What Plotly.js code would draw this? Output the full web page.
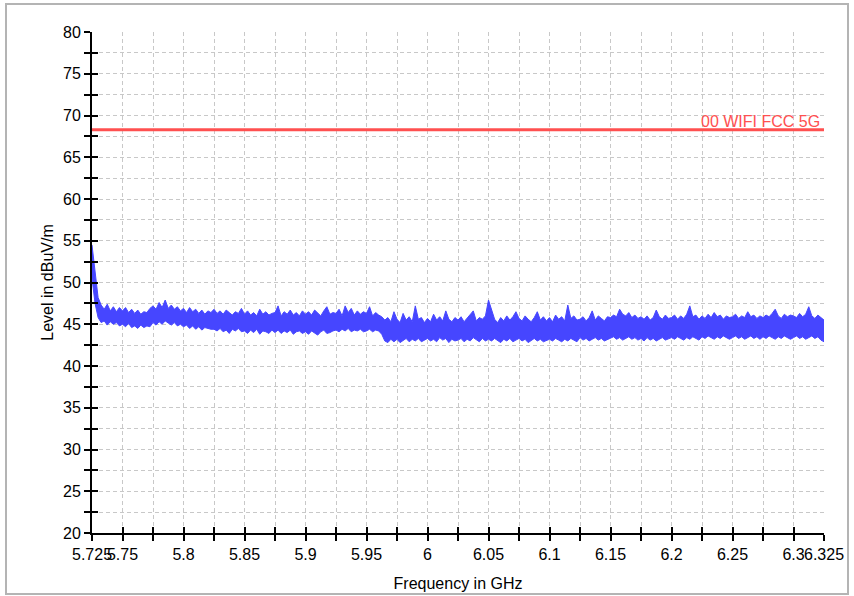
<!DOCTYPE html>
<html><head><meta charset="utf-8">
<script src="https://cdn.plot.ly/plotly-3.0.1.min.js"></script>
<style>
html,body{margin:0;padding:0;background:#fff;}
#frame{position:absolute;left:5px;top:3px;width:844px;height:592px;border:2px solid #b4b4b4;box-sizing:border-box;}
#chart{position:absolute;left:0;top:0;width:854px;height:596px;}
</style></head>
<body><div id="frame"></div><div id="chart"></div>
<script>
// Sweep grid (GHz)
const freqStart = 5.725;
const freqStep = 0.0025;

// Upper envelope of the measured trace (dBuV/m), one value per sweep point
const levelTop = [
54.5,51.5,48.2,47.3,46.8,47.4,46.6,47.1,46.5,47.0,
46.6,47.0,46.4,46.8,46.3,46.7,46.2,46.5,46.4,46.9,
47.2,46.8,47.6,47.0,47.9,46.9,47.3,46.8,47.1,46.6,
46.9,46.4,47.0,46.5,46.8,46.3,46.7,46.2,46.6,46.4,
46.8,46.3,46.6,46.2,46.7,46.4,46.1,46.5,46.3,46.9,
46.2,46.6,46.1,46.4,46.0,46.8,46.2,46.5,46.1,46.3,
46.4,47.2,46.0,46.5,46.2,46.7,46.1,46.4,46.0,46.6,
46.2,46.5,46.1,46.7,46.3,46.0,46.6,47.1,46.2,46.4,
46.3,46.8,46.0,47.2,46.4,46.9,46.1,46.6,46.2,46.5,
46.3,47.1,46.0,46.4,46.1,45.9,45.5,45.8,45.3,46.5,
45.6,45.2,46.3,45.5,45.9,45.3,47.2,45.6,45.8,45.2,
45.7,45.3,46.2,45.5,45.9,45.4,46.6,45.6,45.3,45.8,
45.5,45.9,45.3,45.7,46.1,46.6,45.4,45.8,45.6,46.0,
47.9,46.8,45.6,45.2,45.8,45.4,46.0,45.5,45.9,46.5,
45.7,45.4,46.0,45.6,45.3,45.8,46.5,45.5,45.9,45.4,
45.8,45.3,46.1,45.6,45.9,45.4,47.3,45.7,46.0,45.5,
45.6,45.9,45.4,45.8,46.6,45.5,46.0,45.7,45.4,45.9,
45.8,46.1,45.9,46.8,46.2,46.0,46.4,45.8,46.1,45.7,
45.9,45.6,46.0,45.5,45.8,46.7,45.9,45.6,46.1,45.7,
45.8,46.1,45.6,46.0,45.7,46.2,47.2,45.9,46.1,45.6,
46.0,45.7,46.2,45.8,46.4,45.9,46.1,45.6,46.0,45.8,
45.9,46.2,45.7,46.0,45.8,46.5,45.9,46.1,45.7,46.0,
45.8,46.1,45.9,46.3,46.8,46.0,45.7,46.2,45.9,46.1,
46.0,45.8,46.3,45.9,46.2,47.1,46.0,45.7,46.1,45.8,
45.5
];

// Lower envelope of the measured trace (dBuV/m)
const levelBottom = [
50.5,47.5,45.8,45.2,45.4,44.9,45.3,45.0,45.2,44.8,
45.0,44.7,45.1,44.6,44.8,44.5,44.9,44.6,44.8,44.7,
45.2,44.9,45.3,45.0,45.4,45.1,44.9,45.2,44.8,45.0,
44.7,44.9,44.5,44.8,44.4,44.7,44.3,44.6,44.5,44.4,
44.4,44.2,44.5,44.1,44.3,43.9,44.4,44.2,44.5,44.1,
44.2,43.9,44.3,44.0,44.4,43.8,44.2,44.1,43.9,44.3,
44.0,44.3,43.9,44.2,44.0,44.3,43.8,44.1,44.2,43.9,
44.1,43.8,44.2,44.0,43.7,44.1,44.3,43.9,44.0,44.2,
44.3,44.1,44.4,44.2,44.5,44.1,44.3,44.2,44.4,44.1,
44.2,44.4,44.1,44.3,44.2,43.8,43.0,42.8,43.2,42.9,
43.2,42.8,43.1,43.3,42.9,43.2,43.0,43.3,42.9,43.1,
43.3,43.0,43.2,42.9,43.4,43.1,43.3,42.8,43.2,43.0,
43.1,43.3,42.9,43.2,43.0,43.4,43.1,42.9,43.3,43.0,
43.2,43.0,43.3,43.1,42.8,43.2,43.0,43.3,42.9,43.1,
43.3,43.0,43.2,42.8,43.1,43.3,43.0,43.2,42.9,43.1,
43.2,43.0,43.3,43.1,42.9,43.2,43.0,43.3,43.1,42.9,
43.4,43.1,43.3,43.0,43.2,43.4,43.1,43.3,43.0,43.2,
43.3,43.5,43.2,43.4,43.1,43.3,43.5,43.2,43.4,43.1,
43.3,43.0,43.4,43.1,43.3,43.0,43.2,43.4,43.1,43.3,
43.4,43.2,43.5,43.3,43.1,43.4,43.2,43.5,43.3,43.1,
43.5,43.3,43.6,43.4,43.2,43.5,43.3,43.6,43.4,43.2,
43.4,43.6,43.3,43.5,43.2,43.4,43.6,43.3,43.5,43.2,
43.5,43.3,43.6,43.4,43.2,43.5,43.3,43.6,43.4,43.2,
43.4,43.6,43.3,43.5,43.2,43.4,43.6,43.3,43.5,43.1,
42.9
];

// Limit line
const limitName = "00 WIFI FCC 5G";
const limitFreq = [5.725, 6.325];
const limitLevel = [68.3, 68.3];

// Axis ticks
const freqTicks = [5.725,5.75,5.775,5.8,5.825,5.85,5.875,5.9,5.925,5.95,5.975,6.0,6.025,6.05,6.075,6.1,6.125,6.15,6.175,6.2,6.225,6.25,6.275,6.3,6.325];
const freqTickLabels = ["5.725","5.75","","5.8","","5.85","","5.9","","5.95","","6","","6.05","","6.1","","6.15","","6.2","","6.25","","6.3","6.325"];
const levelTicks = [20,22.5,25,27.5,30,32.5,35,37.5,40,42.5,45,47.5,50,52.5,55,57.5,60,62.5,65,67.5,70,72.5,75,77.5,80];
const levelTickLabels = ["20","","25","","30","","35","","40","","45","","50","","55","","60","","65","","70","","75","","80"];

const freq = levelTop.map((_, i) => freqStart + i * freqStep);
const blue = "rgb(70,70,255)";
const red = "rgb(255,80,80)";
const font = "Liberation Sans, Arial, sans-serif";

const traces = [
  {x: freq, y: levelBottom, mode: "lines", line: {color: blue, width: 1}, hoverinfo: "skip", showlegend: false},
  {x: freq, y: levelTop, mode: "lines", line: {color: blue, width: 1}, fill: "tonexty", fillcolor: blue, showlegend: false},
  {x: limitFreq, y: limitLevel, mode: "lines", line: {color: red, width: 3}, xaxis: "x2", yaxis: "y2", showlegend: false}
];

const axisCommon = {
  tickmode: "array", ticks: "outside", ticklen: 6, tickwidth: 2, tickcolor: "#000",
  showline: true, linewidth: 2, linecolor: "#000", zeroline: false,
  showgrid: true, gridcolor: "#c8c8c8", gridwidth: 1, griddash: "4px,3px",
  tickfont: {family: font, size: 16, color: "#000"}, tickangle: 0
};

const layout = {
  width: 854, height: 596,
  margin: {l: 92, r: 30, t: 32, b: 63},
  paper_bgcolor: "rgba(0,0,0,0)", plot_bgcolor: "rgba(0,0,0,0)",
  font: {family: font, color: "#000"},
  xaxis: Object.assign({}, axisCommon, {
    range: [5.725, 6.325], tickvals: freqTicks, ticktext: freqTickLabels,
    title: {text: "Frequency in GHz", font: {family: font, size: 16, color: "#000"}, standoff: 16}
  }),
  yaxis: Object.assign({}, axisCommon, {
    range: [20, 80], tickvals: levelTicks, ticktext: levelTickLabels,
    title: {text: "Level in dBuV/m", font: {family: font, size: 16, color: "#000"}, standoff: 5}
  }),
  xaxis2: {overlaying: "x", anchor: "y2", range: [5.725, 6.325], tickmode: "array", tickvals: freqTicks,
    ticks: "inside", ticklen: 6, tickwidth: 2, tickcolor: "#000", showticklabels: false, showgrid: false, showline: false, zeroline: false},
  yaxis2: {overlaying: "y", anchor: "x2", range: [20, 80], tickmode: "array", tickvals: levelTicks,
    ticks: "inside", ticklen: 6, tickwidth: 2, tickcolor: "#000", showticklabels: false, showgrid: false, showline: false, zeroline: false},
  annotations: [{
    x: limitFreq[1], y: limitLevel[1], xref: "x", yref: "y", text: limitName, showarrow: false,
    xanchor: "right", yanchor: "bottom", xshift: -2, yshift: -2,
    font: {family: font, size: 16, color: red}
  }]
};

Plotly.newPlot("chart", traces, layout, {displayModeBar: false, staticPlot: true});
</script></body></html>
